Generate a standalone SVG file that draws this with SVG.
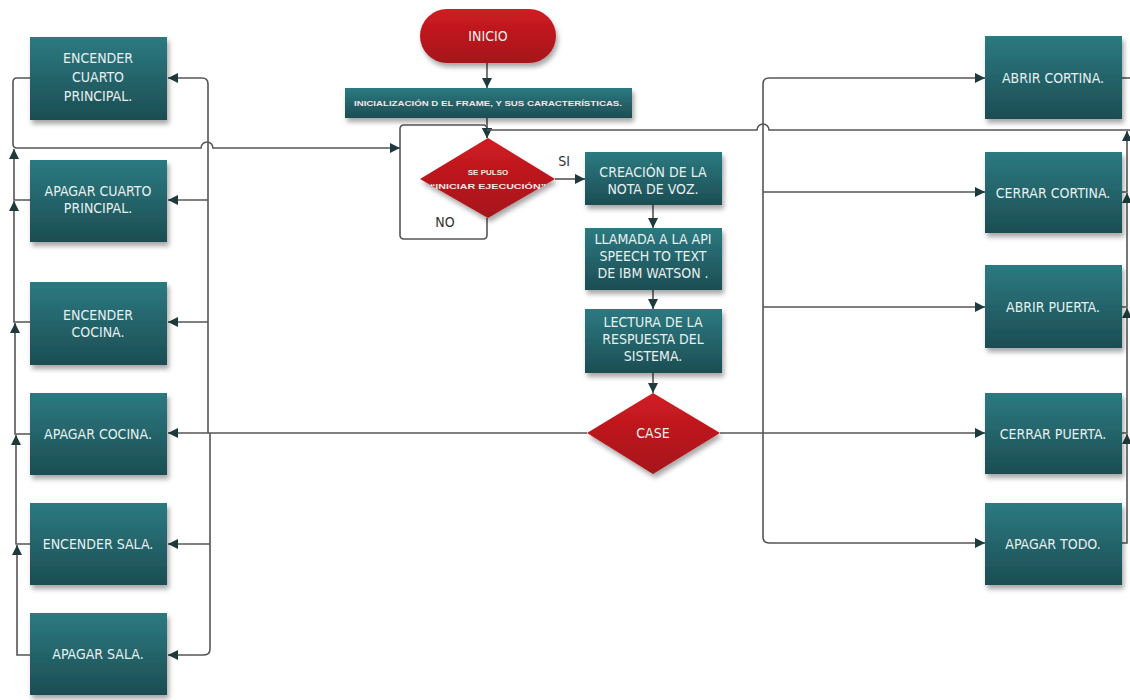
<svg xmlns="http://www.w3.org/2000/svg" width="1130" height="700" viewBox="0 0 1130 700">
<defs>
  <linearGradient id="teal" x1="0" y1="0" x2="0" y2="1">
    <stop offset="0" stop-color="#2c7a81"/>
    <stop offset="1" stop-color="#1c4d53"/>
  </linearGradient>
  <linearGradient id="red" x1="0" y1="0" x2="0" y2="1">
    <stop offset="0" stop-color="#cf1c22"/>
    <stop offset="1" stop-color="#a51319"/>
  </linearGradient>
  <filter id="sh" x="-10%" y="-10%" width="130%" height="140%">
    <feDropShadow dx="2" dy="4" stdDeviation="2.5" flood-color="#000" flood-opacity="0.35"/>
  </filter>
  <marker id="ah" viewBox="0 0 10 10" refX="10" refY="5" markerWidth="11" markerHeight="10" markerUnits="userSpaceOnUse" orient="auto">
    <path d="M0,0 L10,5 L0,10 z" fill="#1f3a3c"/>
  </marker>
  <style>
    .box{fill:url(#teal);filter:url(#sh)}
    .dec{fill:url(#red);filter:url(#sh)}
    .t{font-family:"Liberation Sans Narrow","DejaVu Sans Condensed","Liberation Sans",sans-serif;font-size:14px;fill:#e6f0f0;text-anchor:middle}
    .s{font-family:"Liberation Sans",sans-serif;font-size:8px;font-weight:bold;fill:#f3e6e6;text-anchor:middle}
    .lbl{font-family:"Liberation Sans Narrow","DejaVu Sans Condensed","Liberation Sans",sans-serif;font-size:14px;fill:#333;text-anchor:middle}
    .c{fill:none;stroke:#555;stroke-width:1.6}
    .a{marker-end:url(#ah)}
  </style>
</defs>
<rect width="1130" height="700" fill="#fff"/>

<g id="connectors">
  <path class="c a" d="M487,63 V88"/>
  <path class="c a" d="M487,117 V138"/>
  <path class="c a" d="M487,218 V235 Q487,239 483,239 H404 Q400,239 400,235 V129 Q400,125 404,125 H483 Q487,125 487,129 V138"/>
  <path class="c a" d="M555,179 H585"/>
  <path class="c a" d="M653,205 V228"/>
  <path class="c a" d="M653,290 V309"/>
  <path class="c a" d="M653,373 V393"/>
  <path class="c a" d="M30,78 H17 Q13,78 13,82 V144 Q13,148 17,148 H201 A6,6 0 0 1 213,148 H400"/>
  <path class="c a" d="M30,200 H14 V149"/>
  <path class="c a" d="M30,322 H14 V201"/>
  <path class="c a" d="M30,434 H15 V323"/>
  <path class="c a" d="M30,544 H16 V435"/>
  <path class="c a" d="M30,655 H17 V545"/>
  <path class="c" d="M1122,78 H1130"/>
  <path class="c a" d="M1122,192 H1127 V131"/>
  <path class="c a" d="M1122,307 H1127 V193"/>
  <path class="c a" d="M1122,433 H1127 V308"/>
  <path class="c a" d="M1122,543 H1127 V434"/>
  <path class="c" d="M1130,130 H769 A6,6 0 0 0 757,130 H487"/>
  <path class="c a" d="M587,433 H168"/>
  <path class="c a" d="M208,433 V84 Q208,78 202,78 H168"/>
  <path class="c a" d="M208,200 H168"/>
  <path class="c a" d="M208,322 H168"/>
  <path class="c a" d="M210,433 V649 Q210,655 204,655 H168"/>
  <path class="c a" d="M210,544 H168"/>
  <path class="c a" d="M720,433 H985"/>
  <path class="c a" d="M763,433 V84 Q763,78 769,78 H985"/>
  <path class="c a" d="M763,192 H985"/>
  <path class="c a" d="M763,307 H985"/>
  <path class="c a" d="M763,433 V537 Q763,543 769,543 H985"/>
</g>

<g id="inicio">
  <rect class="dec" x="420" y="9" width="136" height="54" rx="27"/>
  <text class="t" x="488" y="41">INICIO</text>
</g>
<g id="init">
  <rect class="box" x="345" y="88" width="287" height="30"/>
  <text class="s" x="488" y="106" textLength="268" lengthAdjust="spacingAndGlyphs">INICIALIZACIÓN D EL FRAME, Y SUS CARACTERÍSTICAS.</text>
</g>
<g id="decision">
  <polygon class="dec" points="488,138 555,179 488,218 420,179"/>
  <text class="s" x="488" y="175">SE PULSO</text>
  <text class="s" x="488" y="189" textLength="116" lengthAdjust="spacingAndGlyphs">“INICIAR EJECUCIÓN”</text>
</g>
<text class="lbl" x="564" y="166">SI</text>
<text class="lbl" x="445" y="227">NO</text>

<g id="creacion">
  <rect class="box" x="585" y="152" width="137" height="53"/>
  <text class="t" x="653" y="177">CREACIÓN DE LA</text>
  <text class="t" x="653" y="194">NOTA DE VOZ.</text>
</g>
<g id="llamada">
  <rect class="box" x="585" y="228" width="137" height="62"/>
  <text class="t" x="653" y="244">LLAMADA A LA API</text>
  <text class="t" x="653" y="261">SPEECH TO TEXT</text>
  <text class="t" x="653" y="278">DE IBM WATSON .</text>
</g>
<g id="lectura">
  <rect class="box" x="585" y="309" width="137" height="64"/>
  <text class="t" x="653" y="327">LECTURA DE LA</text>
  <text class="t" x="653" y="344">RESPUESTA DEL</text>
  <text class="t" x="653" y="361">SISTEMA.</text>
</g>
<g id="case">
  <polygon class="dec" points="653,393 720,433 653,474 587,433"/>
  <text class="t" x="653" y="438">CASE</text>
</g>

<g id="encender-cuarto">
  <rect class="box" x="30" y="37" width="137" height="83"/>
  <text class="t" x="98" y="63">ENCENDER</text>
  <text class="t" x="98" y="82">CUARTO</text>
  <text class="t" x="98" y="101">PRINCIPAL.</text>
</g>
<g id="apagar-cuarto">
  <rect class="box" x="30" y="160" width="137" height="82"/>
  <text class="t" x="98" y="196">APAGAR CUARTO</text>
  <text class="t" x="98" y="213">PRINCIPAL.</text>
</g>
<g id="encender-cocina">
  <rect class="box" x="30" y="282" width="137" height="83"/>
  <text class="t" x="98" y="320">ENCENDER</text>
  <text class="t" x="98" y="337">COCINA.</text>
</g>
<g id="apagar-cocina">
  <rect class="box" x="30" y="393" width="137" height="82"/>
  <text class="t" x="98" y="439">APAGAR COCINA.</text>
</g>
<g id="encender-sala">
  <rect class="box" x="30" y="503" width="137" height="82"/>
  <text class="t" x="98" y="549">ENCENDER SALA.</text>
</g>
<g id="apagar-sala">
  <rect class="box" x="30" y="613" width="137" height="82"/>
  <text class="t" x="98" y="659">APAGAR SALA.</text>
</g>

<g id="abrir-cortina">
  <rect class="box" x="985" y="36" width="137" height="83"/>
  <text class="t" x="1053" y="83">ABRIR CORTINA.</text>
</g>
<g id="cerrar-cortina">
  <rect class="box" x="985" y="152" width="137" height="81"/>
  <text class="t" x="1053" y="198">CERRAR CORTINA.</text>
</g>
<g id="abrir-puerta">
  <rect class="box" x="985" y="265" width="137" height="83"/>
  <text class="t" x="1053" y="312">ABRIR PUERTA.</text>
</g>
<g id="cerrar-puerta">
  <rect class="box" x="985" y="393" width="137" height="81"/>
  <text class="t" x="1053" y="439">CERRAR PUERTA.</text>
</g>
<g id="apagar-todo">
  <rect class="box" x="985" y="503" width="137" height="82"/>
  <text class="t" x="1053" y="549">APAGAR TODO.</text>
</g>
</svg>
